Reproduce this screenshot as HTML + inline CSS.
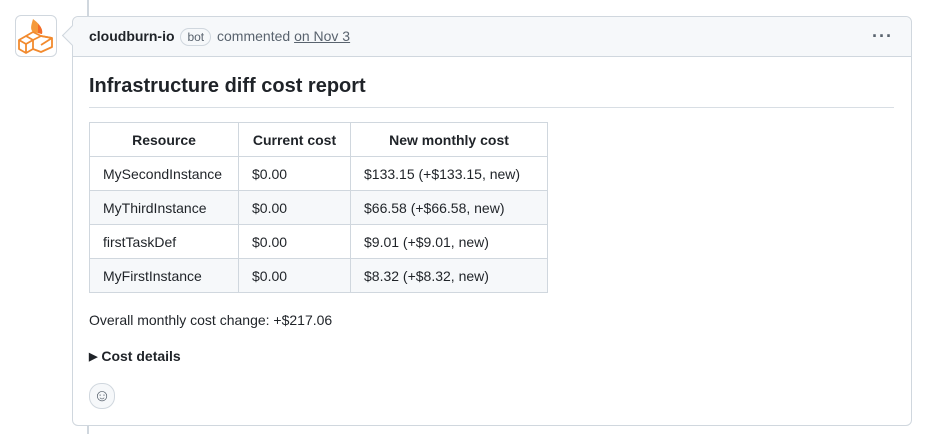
<!DOCTYPE html>
<html><head><style>
body{margin:0;width:931px;height:434px;background:#fff;font-family:"Liberation Sans",sans-serif;color:#1f2328;position:relative;overflow:hidden}
.tl{position:absolute;left:87px;top:0;width:2px;height:434px;background:#d0d7de}
.av{position:absolute;left:15px;top:15px;width:40px;height:40px;border:1px solid #d0d7de;border-radius:6px;background:#fff}
.box{position:absolute;left:72px;top:16px;width:838px;height:408px;border:1px solid #d0d7de;border-radius:6px;background:#fff}
.hd{height:39px;background:#f6f8fa;border-bottom:1px solid #d0d7de;border-radius:6px 6px 0 0;font-size:14px;line-height:39px;padding-left:16px;color:#59636e}
.hd b{color:#1f2328}
.bot{display:inline-block;border:1px solid #d0d7de;border-radius:10px;font-size:12px;line-height:16px;padding:0 6px;margin:0 2px}
.arrow{position:absolute;left:-8px;top:11px;width:14px;height:14px;background:#f6f8fa;border-left:1px solid #d0d7de;border-bottom:1px solid #d0d7de;transform:rotate(45deg)}
h2{position:absolute;left:16px;top:56px;margin:0;font-size:20px;font-weight:bold;width:805px;border-bottom:1px solid #d8dee4;padding-bottom:8px;line-height:26px}
table{position:absolute;left:16px;top:105px;border-collapse:collapse;font-size:14px}
td,th{border:1px solid #d0d7de;height:33px;padding:0 13px;text-align:left}
th{text-align:center;font-weight:bold}
tr:nth-child(odd) td{background:#f6f8fa}
</style></head><body>
<div class="tl"></div>
<div class="av"><svg width="40" height="40" viewBox="0 0 40 40">
<path d="M17 3c5 4 10 8 9 15l-9-2c-3-3-2-6 0-13z" fill="#f59a3a"/>
<path d="M22 8c3 3 5 6 4 10l-4-1z" fill="#f36b2a"/>
<g fill="none" stroke="#f28a2e" stroke-width="1.8" stroke-linejoin="round">
<path d="M3 24l7-4 7 4v9l-7 4-7-4z"/><path d="M3 24l7 4 7-4M10 28v9"/>
<path d="M10 20l7-4 8 4 11 2v9l-11 5-8-3"/><path d="M17 24l8-4 11 2M25 20v0M25 29l11-7"/>
</g></svg></div>
<div class="box">
<div class="arrow"></div>
<div class="hd"><b>cloudburn-io</b> <span class="bot">bot</span> commented <span style="text-decoration:underline">on Nov 3</span><span style="position:absolute;right:18px;color:#59636e;font-weight:bold;font-size:18px;letter-spacing:1px">···</span></div>
<h2>Infrastructure diff cost report</h2>
<table>
<tr><th style="width:122px">Resource</th><th style="width:85px">Current cost</th><th style="width:170px">New monthly cost</th></tr>
<tr><td>MySecondInstance</td><td>$0.00</td><td>$133.15 (+$133.15, new)</td></tr>
<tr><td>MyThirdInstance</td><td>$0.00</td><td>$66.58 (+$66.58, new)</td></tr>
<tr><td>firstTaskDef</td><td>$0.00</td><td>$9.01 (+$9.01, new)</td></tr>
<tr><td>MyFirstInstance</td><td>$0.00</td><td>$8.32 (+$8.32, new)</td></tr>
</table>
<div style="position:absolute;left:16px;top:295px;font-size:14px">Overall monthly cost change: +$217.06</div>
<div style="position:absolute;left:16px;top:331px;font-size:14px;font-weight:bold"><span style="font-size:11px;position:relative;top:-1px">&#9654;</span> Cost details</div>
<div style="position:absolute;left:16px;top:366px;width:24px;height:24px;border:1px solid #d0d7de;border-radius:12px;background:#f6f8fa;text-align:center;line-height:24px;font-size:17px;color:#59636e">&#9786;</div>
</div>
</body></html>
